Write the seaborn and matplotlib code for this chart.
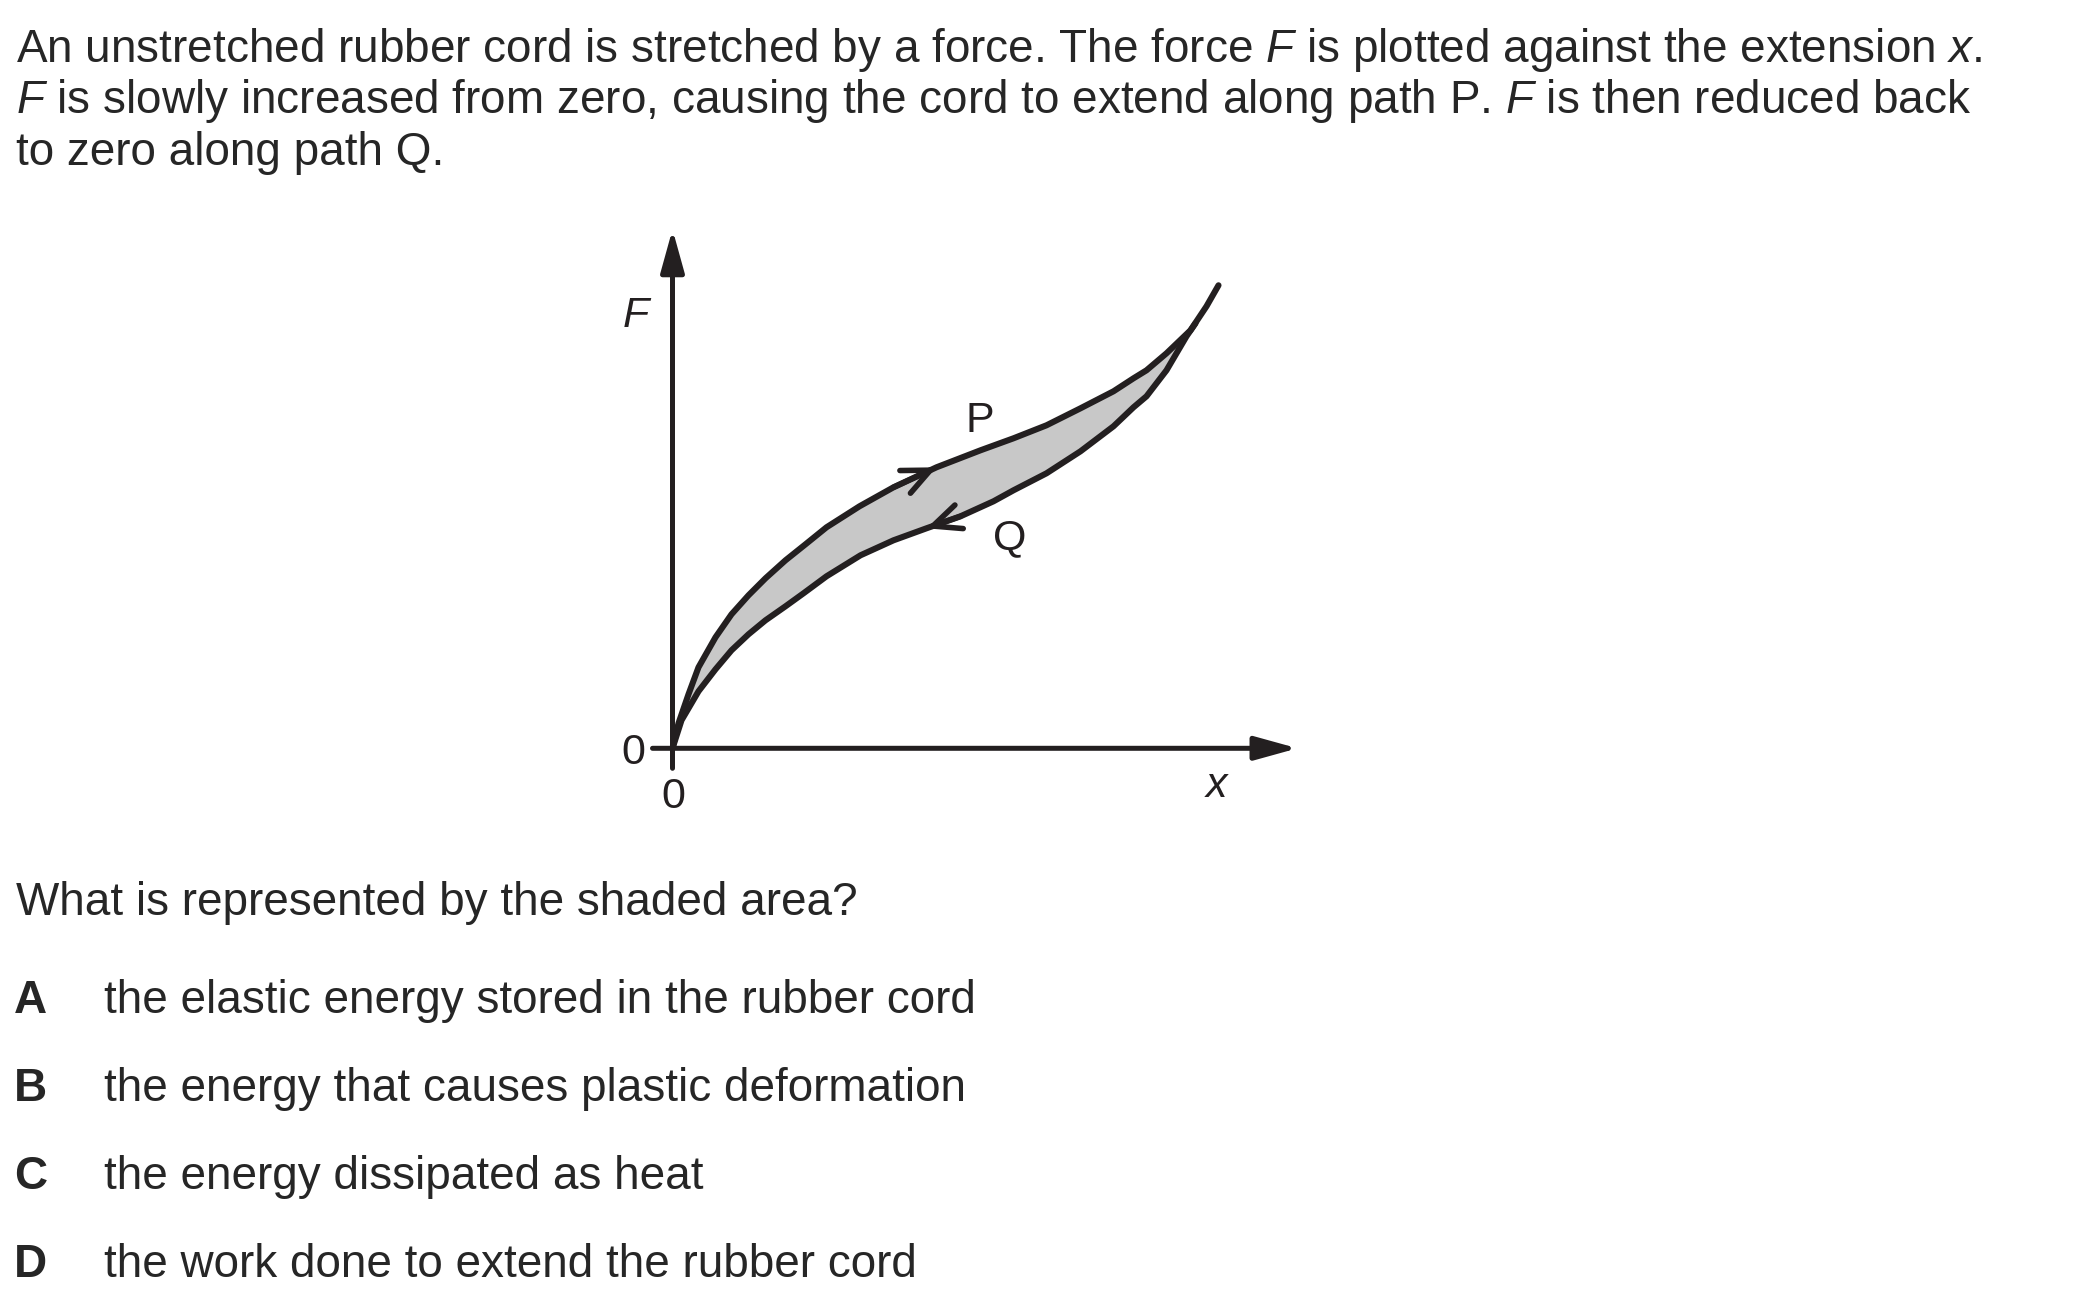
import matplotlib
matplotlib.use('Agg')
import numpy as np
import matplotlib.pyplot as plt
import seaborn as sns

sns.set_style('white')
plt.rcParams['font.family'] = ['Liberation Sans', 'DejaVu Sans']
plt.rcParams['mathtext.fontset'] = 'custom'
plt.rcParams['mathtext.it'] = 'Liberation Sans:italic'
plt.rcParams['mathtext.rm'] = 'Liberation Sans'

W, H = 2100, 1298
INK = '#231f20'
SHADE = '#c8c8c8'
FS = 33          # body text
FS_LAB = 31      # labels on the diagram

# path P (loading), arbitrary units
p_x = [0, 0.6, 1.6, 2.6, 4.3, 5.9, 7.6, 9.3, 11.3, 13.3, 15.4, 18.7, 22.1, 26.4,
       30.8, 34.1, 37.4, 40.8, 44.1, 46.1, 47.4, 49.4, 51.8, 53.4, 54.6]
p_y = [0, 2.5, 5.4, 8.1, 11.1, 13.4, 15.3, 17.0, 18.8, 20.4, 22.1, 24.2, 26.1, 28.1,
       29.8, 31.0, 32.3, 34.0, 35.7, 37.0, 37.8, 39.5, 41.8, 44.2, 46.3]

# path Q (unloading)
q_x = [0, 0.9, 2.6, 4.3, 5.9, 7.6, 9.3, 11.3, 13.1, 15.4, 18.8, 22.1, 25.4, 28.8,
       32.1, 34.1, 37.4, 40.8, 44.1, 46.1, 47.4, 49.4, 51.4, 52.3]
q_y = [0, 2.8, 5.7, 7.9, 9.8, 11.4, 12.8, 14.2, 15.5, 17.2, 19.3, 20.8, 22.0, 23.2,
       24.7, 25.8, 27.5, 29.7, 32.2, 34.1, 35.2, 37.8, 41.2, 42.5]

p_arrow_idx = 13   # where the arrow sits on P
q_arrow_idx = 12   # where the arrow sits on Q

question = [
    "An unstretched rubber cord is stretched by a force. The force $F$ is plotted against the extension $x$.",
    "$F$ is slowly increased from zero, causing the cord to extend along path P. $F$ is then reduced back",
    "to zero along path Q.",
]
prompt = "What is represented by the shaded area?"
option_letters = ['A', 'B', 'C', 'D']
option_texts = [
    'the elastic energy stored in the rubber cord',
    'the energy that causes plastic deformation',
    'the energy dissipated as heat',
    'the work done to extend the rubber cord',
]

fig = plt.figure(figsize=(W / 100, H / 100), dpi=100)


def fx(x):
    return x / W


def fy(y):
    return 1 - y / H


# text block
for i, line in enumerate(question):
    fig.text(fx(16), fy(61.7 + 51.7 * i), line, fontsize=FS, va='baseline', ha='left')
fig.text(fx(16), fy(915), prompt, fontsize=FS, va='baseline', ha='left')
for i, (let, txt) in enumerate(zip(option_letters, option_texts)):
    yb = 1013.3 + 87.8 * i
    fig.text(fx(14), fy(yb), let, fontsize=FS, fontweight='bold', va='baseline', ha='left')
    fig.text(fx(104), fy(yb), txt, fontsize=FS, va='baseline', ha='left')

# diagram axes: 10 px per unit, origin at (672.5, 748.3)
ox, oy = 672.5, 748.3
x0, x1, y0, y1 = -10, 70, -10, 55
ax = fig.add_axes([fx(ox + x0 * 10), fy(oy - y0 * 10), (x1 - x0) * 10 / W, (y1 - y0) * 10 / H])
ax.set_xlim(x0, x1)
ax.set_ylim(y0, y1)
ax.axis('off')

# shaded loop between the two paths
ax.fill(np.concatenate([p_x, q_x[::-1]]), np.concatenate([p_y, q_y[::-1]]),
        color=SHADE, lw=0, zorder=1)

sns.lineplot(x=p_x, y=p_y, sort=False, estimator=None, ax=ax, color=INK, lw=4.4,
             solid_joinstyle='round', zorder=3)
sns.lineplot(x=q_x, y=q_y, sort=False, estimator=None, ax=ax, color=INK, lw=4.4,
             solid_joinstyle='round', zorder=3)

# direction arrows on the paths
chev = dict(arrowstyle='->,head_length=1.0,head_width=0.45', color=INK, lw=4.0,
            mutation_scale=20, shrinkA=0, shrinkB=0)
ax.annotate('', xy=(p_x[p_arrow_idx], p_y[p_arrow_idx]),
            xytext=(p_x[p_arrow_idx - 1], p_y[p_arrow_idx - 1]), arrowprops=chev, zorder=4)
ax.annotate('', xy=(q_x[q_arrow_idx], q_y[q_arrow_idx]),
            xytext=(q_x[q_arrow_idx + 1], q_y[q_arrow_idx + 1]), arrowprops=chev, zorder=4)

# axes with arrowheads
head = dict(arrowstyle='-|>,head_length=1.3,head_width=0.36', color=INK, lw=3.6,
            mutation_scale=20, shrinkA=0, shrinkB=0)
ax.annotate('', xy=(62.5, 0), xytext=(-2.0, 0), arrowprops=head, zorder=2)
ax.annotate('', xy=(0, 51.9), xytext=(0, -2.0), arrowprops=head, zorder=2)

# labels
ax.text(-3.5, 42.1, '$F$', fontsize=FS_LAB, color=INK, ha='center', va='baseline')
ax.text(54.5, -4.9, '$x$', fontsize=FS_LAB, color=INK, ha='center', va='baseline')
ax.text(-3.9, -1.6, '0', fontsize=FS_LAB, color=INK, ha='center', va='baseline')
ax.text(0.05, -6.0, '0', fontsize=FS_LAB, color=INK, ha='center', va='baseline')
ax.text(30.75, 31.6, 'P', fontsize=FS_LAB, color=INK, ha='center', va='baseline')
ax.text(33.75, 19.9, 'Q', fontsize=FS_LAB, color=INK, ha='center', va='baseline')

fig.savefig('out.png', dpi=100)
